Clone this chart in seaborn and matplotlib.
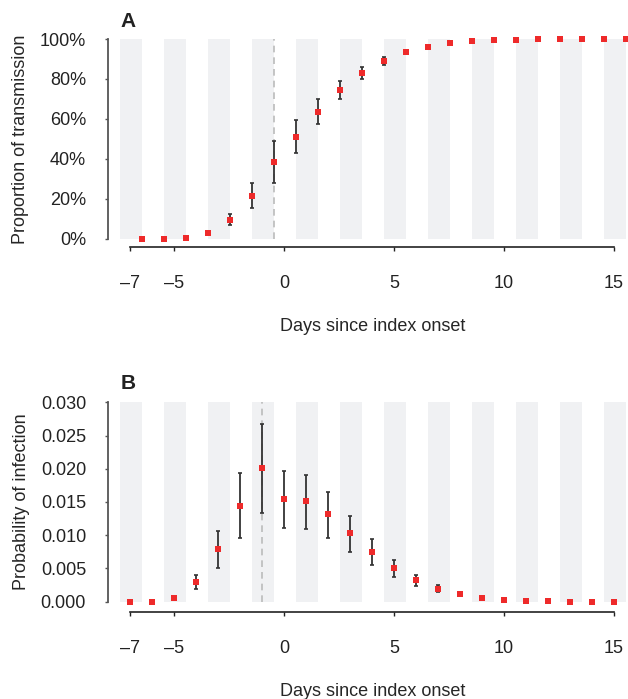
import numpy as np
import pandas as pd
import matplotlib
matplotlib.use("Agg")
import matplotlib.pyplot as plt
from matplotlib.ticker import PercentFormatter, FormatStrFormatter
import seaborn as sns

# days since index onset
days = list(range(-7, 16))

# panel A: cumulative proportion of transmission (plotted half a day later)
a_shift = 0.55
a_prop = [0.0, 0.0, 0.005, 0.030, 0.093, 0.215, 0.384, 0.509, 0.634, 0.745, 0.831, 0.891,
          0.935, 0.960, 0.980, 0.990, 0.995, 0.995, 1.0, 1.0, 1.0, 1.0, 1.0]
a_low = [0.0, 0.0, 0.004, 0.027, 0.068, 0.155, 0.279, 0.427, 0.574, 0.701, 0.801, 0.871,
         0.93, 0.957, 0.978, 0.989, 0.994, 0.994, 1.0, 1.0, 1.0, 1.0, 1.0]
a_high = [0.0, 0.0, 0.006, 0.033, 0.125, 0.279, 0.487, 0.596, 0.698, 0.788, 0.861, 0.912,
          0.94, 0.963, 0.982, 0.991, 0.996, 0.996, 1.0, 1.0, 1.0, 1.0, 1.0]

# panel B: probability of infection per day
b_prob = [0.0, 0.0, 0.00055, 0.00296, 0.00793, 0.01440, 0.02012, 0.01545, 0.01515, 0.01319,
          0.01033, 0.00747, 0.00507, 0.00326, 0.00191, 0.00115, 0.00055, 0.00025, 0.0001,
          0.0001, 0.0, 0.0, 0.0]
b_low = [0.0, 0.0, 0.0005, 0.00191, 0.00512, 0.00953, 0.01329, 0.01114, 0.01089, 0.00953,
         0.00752, 0.00547, 0.00371, 0.00236, 0.00140, 0.0010, 0.0005, 0.0002, 0.0001,
         0.0001, 0.0, 0.0, 0.0]
b_high = [0.0, 0.0, 0.0006, 0.00396, 0.01064, 0.01931, 0.02674, 0.01971, 0.01911, 0.01650,
          0.01294, 0.00938, 0.00632, 0.00406, 0.00246, 0.0013, 0.0006, 0.0003, 0.0001,
          0.0001, 0.0, 0.0, 0.0]

x_ticks = [-7, -5, 0, 5, 10, 15]
onset_day = -1

sns.set_theme(style="white")
plt.rcParams['font.family'] = ['Liberation Sans', 'DejaVu Sans']
plt.rcParams['text.color'] = '#222222'

red = '#ee2a2a'
band = '#f0f1f3'
dpi = 100
fig = plt.figure(figsize=(628 / dpi, 699 / dpi), dpi=dpi)
ax_a = fig.add_axes([120 / 628, 1 - 238.7 / 699, 506 / 628, 199.7 / 699])
ax_b = fig.add_axes([120 / 628, 1 - 601.7 / 699, 506 / 628, 199.4 / 699])

df_a = pd.DataFrame({'day': np.array(days) + a_shift, 'val': a_prop, 'lo': a_low, 'hi': a_high})
df_b = pd.DataFrame({'day': np.array(days, dtype=float), 'val': b_prob, 'lo': b_low, 'hi': b_high})


def draw_panel(ax, df, line_x, ytop, bottom_offset):
    # alternating shaded day bands
    for d in days[::2]:
        ax.axvspan(d - 0.45, d + 0.55, color=band, lw=0, zorder=0)
    ax.plot([line_x, line_x], [0, ytop], color='#bbbbbb', lw=1.2, dashes=(4, 3), zorder=1)
    err = np.vstack([df['val'] - df['lo'], df['hi'] - df['val']])
    ax.errorbar(df['day'], df['val'], yerr=err, fmt='none', ecolor='#333333',
                elinewidth=1.3, capsize=1.6, capthick=1.2, zorder=2)
    sns.scatterplot(data=df, x='day', y='val', marker='s', s=24, color=red,
                    linewidth=0, ax=ax, zorder=3, clip_on=False)
    ax.set_xlim(-7.45, 15.55)
    ax.set_ylim(0, ytop)
    ax.set_xticks(x_ticks)
    ax.set_xticklabels(['\u20137', '\u20135', '0', '5', '10', '15'])
    sns.despine(ax=ax)
    ax.spines['left'].set_position(('outward', 8.4))
    ax.spines['bottom'].set_position(('outward', bottom_offset))
    ax.spines['left'].set_bounds(0, ytop)
    ax.spines['bottom'].set_bounds(-7, 15)
    ax.spines['left'].set_color('#555555')
    ax.spines['bottom'].set_color('#222222')
    ax.spines['left'].set_linewidth(1.3)
    ax.spines['bottom'].set_linewidth(1.2)
    ax.tick_params(axis='x', direction='out', length=3, width=1, color='#222222',
                   pad=17, labelsize=13, labelcolor='#222222', bottom=True)
    ax.tick_params(axis='y', direction='out', length=2, width=1, color='#555555',
                   pad=14, labelsize=13, labelcolor='#222222', left=True)
    ax.set_xlabel('Days since index onset', fontsize=13, labelpad=19)


draw_panel(ax_a, df_a, onset_day + a_shift, 1.0, 6.2)
ax_a.set_yticks(np.arange(0, 1.01, 0.2))
ax_a.yaxis.set_major_formatter(PercentFormatter(1.0, decimals=0))
ax_a.set_ylabel('Proportion of transmission', fontsize=13, labelpad=8)

draw_panel(ax_b, df_b, onset_day, 0.030, 7.4)
ax_b.set_yticks(np.arange(0, 0.0301, 0.005))
ax_b.yaxis.set_major_formatter(FormatStrFormatter('%.3f'))
ax_b.set_ylabel('Probability of infection', fontsize=13, labelpad=8)

fig.text(128 / 628, 1 - 21.7 / 699, 'A', ha='center', va='center', fontsize=15, weight='bold')
fig.text(128 / 628, 1 - 383 / 699, 'B', ha='center', va='center', fontsize=15, weight='bold')

fig.savefig('out.png', dpi=dpi)
